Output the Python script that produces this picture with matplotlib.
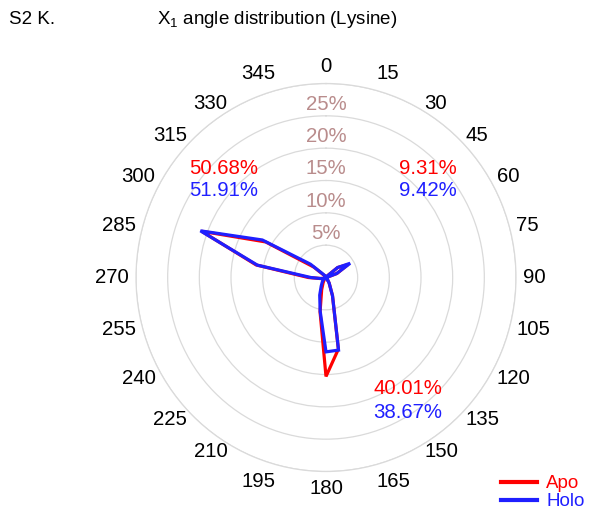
import numpy as np
import matplotlib
matplotlib.use("Agg")
import matplotlib.pyplot as plt
from matplotlib.lines import Line2D

plt.rcParams['font.family'] = ['Liberation Sans', 'DejaVu Sans']
plt.rcParams['mathtext.fontset'] = 'custom'
plt.rcParams['mathtext.rm'] = 'Liberation Sans'
plt.rcParams['mathtext.it'] = 'Liberation Sans:italic'

# =====================
# Data: chi1 histogram, 10 degree bins (% of residues)
# =====================
angles = np.arange(0, 360, 10)

apo = [0.10, 0.05, 0.05, 0.15, 0.35, 2.40, 4.00, 1.86, 0.15, 0.10, 0.05, 0.05,
       0.10, 0.15, 0.30, 1.00, 3.00, 11.25, 15.30, 5.40, 2.00, 0.90, 0.41, 0.20,
       0.20, 0.40, 0.90, 2.80, 11.20, 20.90, 11.00, 2.50, 0.40, 0.20, 0.10, 0.08]

holo = [0.10, 0.05, 0.05, 0.10, 0.25, 2.40, 4.40, 1.77, 0.10, 0.10, 0.05, 0.05,
        0.10, 0.15, 0.30, 1.00, 3.00, 11.40, 11.50, 5.30, 2.90, 1.50, 0.92, 0.60,
        0.20, 0.40, 0.90, 2.40, 11.00, 21.10, 11.60, 3.20, 0.60, 0.30, 0.15, 0.06]

# rotamer wells: g+ [0,120), trans [120,240), g- [240,360)
wells = [(0, 120), (120, 240), (240, 360)]

r_ticks = [5, 10, 15, 20, 25, 30]
theta_ticks = np.arange(0, 360, 15)

RED = '#ff0000'
BLUE = '#1f1fff'
FS = 14.7

W, H = 592, 512
fig = plt.figure(figsize=(W / 100, H / 100), dpi=100)


def px(x, y):
    return x / W, 1 - y / H


# polar area centred at (326, 277.5): 190 px wide radius, 194 px tall
ax = fig.add_axes([136 / W, 1 - 471.5 / H, 380 / W, 388 / H], projection='polar')
ax.set_aspect('auto')
ax.set_theta_zero_location('N')
ax.set_theta_direction(-1)

for vals, col in [(apo, RED), (holo, BLUE)]:
    th = np.deg2rad(np.append(angles, angles[0]))
    rr = np.append(vals, vals[0])
    ax.plot(th, rr, color=col, lw=2.3, solid_joinstyle='miter')

ax.set_ylim(0, 30)
ax.set_yticks(r_ticks)
ax.set_yticklabels([])
ax.yaxis.grid(True, color='#dadada', lw=0.9)
ax.xaxis.grid(False)
ax.spines['polar'].set_color('#dadada')
ax.spines['polar'].set_linewidth(0.9)

# angle labels sit just outside the rim, anchored on their inner edge
ax.set_xticks(np.deg2rad(theta_ticks))
ax.set_xticklabels([])
for t in theta_ticks:
    s, c = np.sin(np.deg2rad(t)), np.cos(np.deg2rad(t))
    ha = 'center' if abs(s) < 0.01 else ('left' if s > 0 else 'right')
    va = 'bottom' if c > 0.9 else ('top' if c < -0.9 else 'center')
    ax.text(np.deg2rad(t), 31.1, str(t), ha=ha, va=va, fontsize=FS, clip_on=False)

for r in r_ticks[:-1]:
    ax.text(0, r + 1.8, f'{r}%', ha='center', va='center',
            color='#b98c8c', fontsize=FS)

# per-well populations
ang = np.array(angles)
sums = []
for lo, hi in wells:
    m = (ang >= lo) & (ang < hi)
    sums.append((np.sum(np.array(apo)[m]), np.sum(np.array(holo)[m])))

label_pos = [(428, 168), (408, 389), (224, 168)]
for (a, h), (x, y) in zip(sums, label_pos):
    fig.text(*px(x, y), f'{a:.2f}%', color=RED, fontsize=FS, ha='center', va='center')
    fig.text(*px(x, y + 23), f'{h:.2f}%', color=BLUE, fontsize=FS, ha='center', va='center')

fig.text(*px(277, 19), r'X$_1$ angle distribution (Lysine)', fontsize=13.5,
         ha='center', va='center')
fig.text(*px(9, 19), 'S2 K.', fontsize=13.5, ha='left', va='center')

handles = [Line2D([], [], color=RED, lw=3), Line2D([], [], color=BLUE, lw=3)]
fig.legend(handles, ['Apo', 'Holo'], loc='upper left',
           bbox_to_anchor=px(501, 475), frameon=False, labelcolor='linecolor',
           fontsize=13.5, handlelength=1.9, handletextpad=0.5,
           labelspacing=0.05, borderpad=0, borderaxespad=0)

plt.savefig('out.png', dpi=100)
